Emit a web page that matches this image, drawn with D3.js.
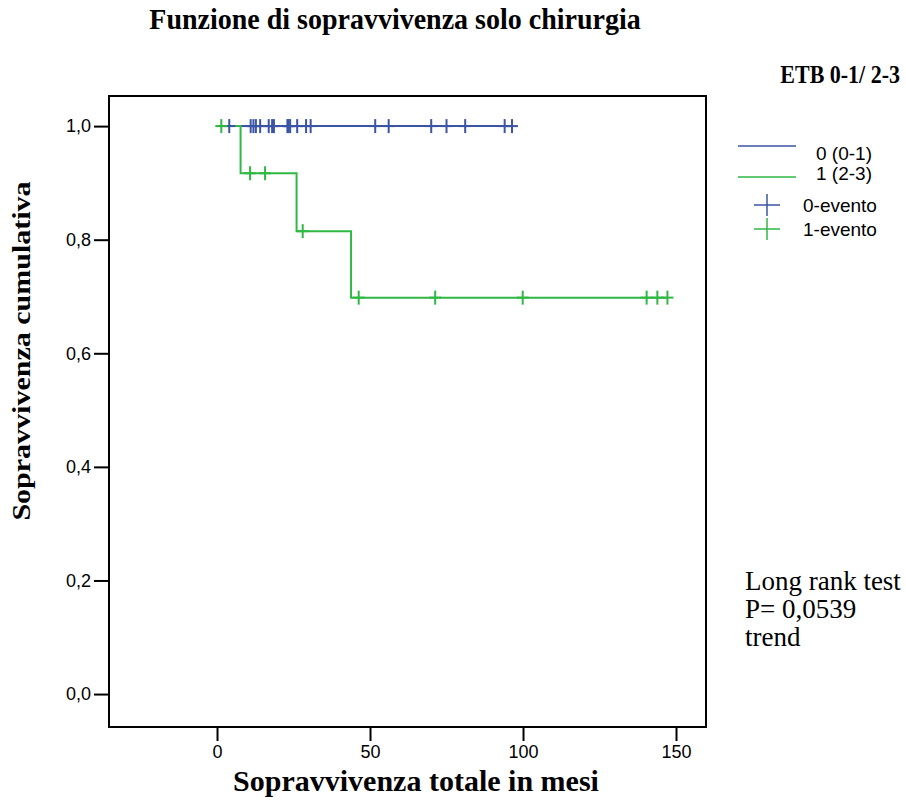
<html>
<head>
  <meta charset="utf-8">
  <title>Funzione di sopravvivenza</title>
  <script src="https://d3js.org/d3.v7.min.js"></script>
  <style>
    body { margin: 0; background: #fff; }
  </style>
</head>
<body>
<script>
// gruppo 0 (ETB 0-1): nessun evento, solo censure
var blueCensor = [4.0, 11.0, 11.9, 12.7, 14.1, 16.9, 18.0, 18.6, 23.0, 23.4, 23.9,
                  26.2, 29.1, 30.6, 51.7, 56.1, 70.0, 75.0, 81.1, 94.0, 96.4];
var blueStepTime = [0];
var blueStepSurv = [1.0];

// gruppo 1 (ETB 2-3)
var greenStepTime = [0, 7.7, 26.0, 43.8];
var greenStepSurv = [1.0, 0.917, 0.815, 0.698];
var greenCensor = [1.4, 10.8, 15.7, 28.0, 46.3, 71.3, 99.9, 140.4, 143.9, 147.2];

var xTicks = [0, 50, 100, 150];
var yTicks = [0, 0.2, 0.4, 0.6, 0.8, 1.0];

var blue = "#3b54a5", green = "#2fb844";

var width = 906, height = 805;
var m = { left: 109, right: 706, top: 96, bottom: 727 };

var svg = d3.select("body").append("svg")
  .attr("width", width)
  .attr("height", height);

var x = d3.scaleLinear().domain([-35.3, 159.8]).range([m.left, m.right]);
var y = d3.scaleLinear().domain([-0.058, 1.053]).range([m.bottom, m.top]);

// steps
function stepPath(times, surv, end) {
  var pts = [];
  for (var i = 0; i < times.length; i++) {
    if (i > 0) pts.push([times[i], surv[i - 1]]);
    pts.push([times[i], surv[i]]);
  }
  pts.push([end, surv[surv.length - 1]]);
  return d3.line().x(function(d) { return x(d[0]); }).y(function(d) { return y(d[1]); })(pts);
}

function survAt(times, surv, t) {
  var s = surv[0];
  for (var i = 0; i < times.length; i++) if (times[i] <= t) s = surv[i];
  return s;
}

svg.append("path")
  .attr("d", stepPath(blueStepTime, blueStepSurv, d3.max(blueCensor)))
  .attr("fill", "none").attr("stroke", blue).attr("stroke-width", 2);

svg.append("path")
  .attr("d", stepPath(greenStepTime, greenStepSurv, d3.max(greenCensor)))
  .attr("fill", "none").attr("stroke", green).attr("stroke-width", 2);

function crosses(data, times, surv, color) {
  var g = svg.append("g").attr("stroke", color).attr("stroke-width", 2);
  data.forEach(function(t) {
    var cx = x(t), cy = y(survAt(times, surv, t));
    g.append("line").attr("x1", cx).attr("x2", cx).attr("y1", cy - 7).attr("y2", cy + 7);
    g.append("line").attr("x1", cx - 6).attr("x2", cx + 6).attr("y1", cy).attr("y2", cy);
  });
}
crosses(blueCensor, blueStepTime, blueStepSurv, blue);
crosses(greenCensor, greenStepTime, greenStepSurv, green);

// frame
svg.append("rect")
  .attr("x", m.left).attr("y", m.top)
  .attr("width", m.right - m.left).attr("height", m.bottom - m.top)
  .attr("fill", "none").attr("stroke", "#000").attr("stroke-width", 2);

var fmt = function(d) { return d3.format(".1f")(d).replace(".", ","); };

var yAxis = svg.append("g")
  .attr("transform", "translate(" + m.left + ",0)")
  .call(d3.axisLeft(y).tickValues(yTicks).tickSize(15).tickPadding(3).tickFormat(fmt));
var xAxis = svg.append("g")
  .attr("transform", "translate(0," + m.bottom + ")")
  .call(d3.axisBottom(x).tickValues(xTicks).tickSize(14).tickPadding(4));

[yAxis, xAxis].forEach(function(a) {
  a.attr("font-size", 18).attr("font-family", "Liberation Sans, Arial, sans-serif");
  a.select(".domain").remove();
  a.selectAll(".tick line").attr("stroke", "#000").attr("stroke-width", 2);
  a.selectAll(".tick text").attr("fill", "#000");
});

// titles (testo un po' allungato in verticale come nell'originale)
var serif = "Liberation Serif, Times New Roman, serif";
function label(tx, ty, txt, size, anchor, bold, stretch, rot) {
  var tr = "translate(" + tx + "," + ty + ")" +
    (rot ? " rotate(-90) scale(" + stretch + ",1)" : " scale(1," + stretch + ")");
  return svg.append("text")
    .attr("transform", tr)
    .attr("text-anchor", anchor)
    .attr("font-family", serif)
    .attr("font-weight", bold ? "bold" : "normal")
    .attr("font-size", size)
    .text(txt);
}

label(395, 29, "Funzione di sopravvivenza solo chirurgia", 28, "middle", true, 1.08);
label(900, 83, "ETB 0-1/ 2-3", 22, "end", true, 1.15);
label(30, 351, "Sopravvivenza cumulativa", 25, "middle", true, 1.2, true);
label(416, 791, "Sopravvivenza totale in mesi", 30, "middle", true, 1.0);

// legend
var legLines = [["0 (0-1)", blue], ["1 (2-3)", green]];
var legMarks = [["0-evento", blue], ["1-evento", green]];
var leg = svg.append("g").attr("font-family", "Liberation Sans, Arial, sans-serif").attr("font-size", 19);
legLines.forEach(function(d, i) {
  var ly = 146 + i * 31;
  leg.append("line").attr("x1", 738).attr("x2", 796).attr("y1", ly).attr("y2", ly)
    .attr("stroke", d[1]).attr("stroke-width", 1.5);
  leg.append("text").attr("x", 816).attr("y", 160 + i * 20).text(d[0]);
});
legMarks.forEach(function(d, i) {
  var ly = 205 + i * 24;
  leg.append("line").attr("x1", 754).attr("x2", 780).attr("y1", ly).attr("y2", ly)
    .attr("stroke", d[1]).attr("stroke-width", 1.5);
  leg.append("line").attr("x1", 767).attr("x2", 767).attr("y1", ly - 11).attr("y2", ly + 11)
    .attr("stroke", d[1]).attr("stroke-width", 1.5);
  leg.append("text").attr("x", 803).attr("y", ly + 7).text(d[0]);
});

// long rank note
var note = ["Long rank test", "P= 0,0539", "trend"];
note.forEach(function(t, i) {
  label(745, 590 + i * 28, t, 27, "start", false, 1.03);
});
</script>
</body>
</html>
